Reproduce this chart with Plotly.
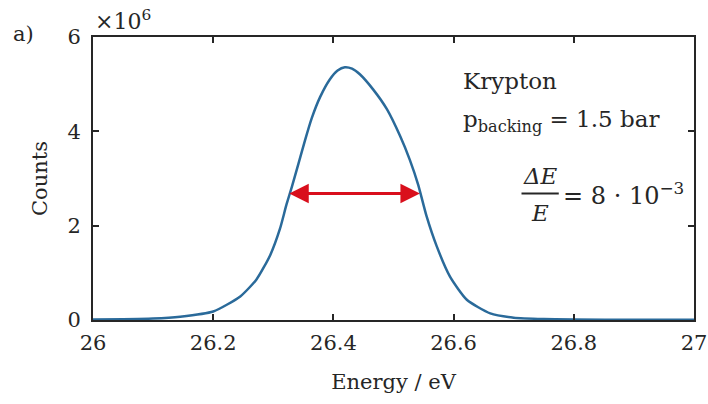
import plotly.graph_objects as go

energy = [26.00, 26.05, 26.10, 26.145, 26.20, 26.245, 26.272, 26.295, 26.311, 26.322,
          26.331, 26.342, 26.353, 26.364, 26.378, 26.394, 26.407, 26.419, 26.431, 26.444,
          26.466, 26.489, 26.511, 26.527, 26.541, 26.555, 26.572, 26.594, 26.622, 26.661,
          26.70, 26.75, 26.80, 26.90, 27.00]
counts_1e6 = [0.01, 0.015, 0.03, 0.07, 0.18, 0.50, 0.86, 1.38, 1.93, 2.45,
              2.83, 3.32, 3.82, 4.28, 4.73, 5.10, 5.29, 5.36, 5.33, 5.21,
              4.89, 4.47, 3.90, 3.40, 2.87, 2.20, 1.56, 0.92, 0.43, 0.14,
              0.05, 0.02, 0.01, 0.005, 0.003]
counts = [c * 1e6 for c in counts_1e6]

x_ticks = [26, 26.2, 26.4, 26.6, 26.8, 27]
x_ticktext = ["26", "26.2", "26.4", "26.6", "26.8", "27"]
y_ticks = [0, 2e6, 4e6, 6e6]
y_ticktext = ["0", "2", "4", "6"]

fwhm_left, fwhm_right, fwhm_level = 26.324, 26.544, 2.68e6

FONT = "DejaVu Serif"
TXT = "#262626"

fig = go.Figure()
fig.add_trace(go.Scatter(x=energy, y=counts, mode="lines",
                         line=dict(color="#2a6a9a", width=2.5, shape="spline", smoothing=0.6),
                         hoverinfo="skip", showlegend=False))

axis_common = dict(showline=True, linecolor=TXT, linewidth=2, mirror="ticks",
                   ticks="inside", ticklen=6, tickwidth=1.5, tickcolor=TXT,
                   showgrid=False, zeroline=False, automargin=False,
                   tickfont=dict(family=FONT, size=21, color=TXT))

fig.update_xaxes(range=[26, 27], tickvals=x_ticks, ticktext=x_ticktext, ticklabelstandoff=3,
                 title=dict(text="Energy / eV", font=dict(family=FONT, size=21, color=TXT), standoff=20),
                 **axis_common)
fig.update_yaxes(range=[0, 6e6], tickvals=y_ticks, ticktext=y_ticktext, ticklabelstandoff=6,
                 title=dict(text="Counts", font=dict(family=FONT, size=21, color=TXT), standoff=14),
                 **axis_common)

# FWHM arrow
fig.add_annotation(x=fwhm_right, y=fwhm_level, ax=fwhm_left, ay=fwhm_level,
                   xref="x", yref="y", axref="x", ayref="y", text="",
                   showarrow=True, arrowhead=2, startarrowhead=2, arrowside="end+start",
                   arrowsize=1.3, startarrowsize=1.3, arrowwidth=3, arrowcolor="#d90f1c",
                   standoff=0, startstandoff=0)

ann_font = dict(family=FONT, size=23, color=TXT)
fig.add_annotation(x=26.612, y=5.06e6, xref="x", yref="y", text="Krypton",
                   showarrow=False, xanchor="left", yanchor="middle", font=ann_font)
fig.add_annotation(x=26.612, y=4.22e6, xref="x", yref="y",
                   text="p<sub>backing</sub> = 1.5 bar",
                   showarrow=False, xanchor="left", yanchor="middle", font=ann_font)
fig.add_annotation(x=26.744, y=3.05e6, xref="x", yref="y", text="<i>ΔE</i>",
                   showarrow=False, xanchor="center", yanchor="middle", font=ann_font)
fig.add_annotation(x=26.744, y=2.27e6, xref="x", yref="y", text="<i>E</i>",
                   showarrow=False, xanchor="center", yanchor="middle", font=ann_font)
fig.add_shape(type="line", x0=26.713, x1=26.775, y0=2.68e6, y1=2.68e6,
              xref="x", yref="y", line=dict(color=TXT, width=2))
fig.add_annotation(x=26.778, y=2.68e6, xref="x", yref="y",
                   text="= 8 · 10<sup>−3</sup>",
                   showarrow=False, xanchor="left", yanchor="middle",
                   font=dict(family=FONT, size=24, color=TXT))

# exponent and panel label
fig.add_annotation(x=0.0, y=1.06, xref="paper", yref="paper", text="×10<sup>6</sup>",
                   showarrow=False, xanchor="left", yanchor="middle",
                   font=dict(family=FONT, size=22, color=TXT))
fig.add_annotation(x=-0.137, y=1.01, xref="paper", yref="paper", text="a)",
                   showarrow=False, xanchor="left", yanchor="middle",
                   font=dict(family=FONT, size=21, color=TXT))

fig.update_layout(width=708, height=404, margin=dict(l=93, r=14, t=37, b=84),
                  plot_bgcolor="white", paper_bgcolor="white")

fig.write_html("out.html")
